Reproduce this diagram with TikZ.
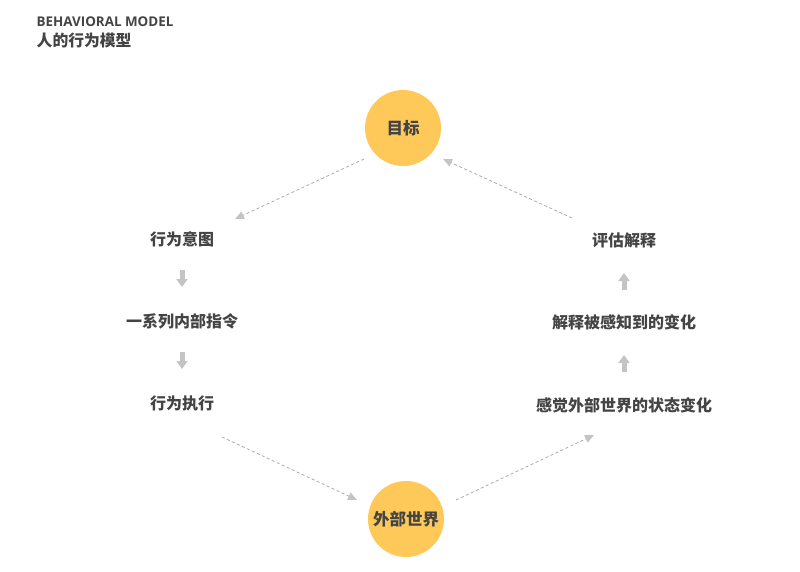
\documentclass[tikz,border=0pt]{standalone}
\usepackage{fontspec}
\setmainfont{Noto Sans CJK SC}
\newfontfamily\cjk{Noto Sans CJK SC}
\newfontfamily\latinf{Open Sans}
\usetikzlibrary{arrows.meta}
\definecolor{circfill}{HTML}{FFC95A}
\definecolor{txtc}{HTML}{444444}
\definecolor{dashc}{HTML}{AAAAAA}
\definecolor{bigc}{HTML}{C4C4C4}
\tikzset{
  lbl/.style={font=\cjk\bfseries\fontsize{16}{18}\selectfont, text=txtc, inner sep=0pt},
  circ/.style={circle, fill=circfill, minimum size=76pt, inner sep=0pt, font=\cjk\bfseries\fontsize{16.5}{18}\selectfont, text=txtc},
  dashconn/.style={draw=dashc, line width=0.8pt, dash pattern=on 3pt off 2.5pt, -{Triangle[length=9pt,width=8pt,fill=bigc,color=bigc]}},
  bigarrow/.style={draw=bigc, line width=5pt, -{Triangle[length=8pt,width=11pt]}}
}
\begin{document}
\begin{tikzpicture}[x=1pt,y=-1pt]
\useasboundingbox (0,0) rectangle (800,571);
\node[anchor=west, inner sep=0pt, text=txtc, font=\latinf\bfseries\fontsize{13.4}{15}\selectfont] (t1) at (36.5,21.5) {BEHAVIORAL MODEL};
\node[anchor=west, inner sep=0pt, text=txtc, font=\cjk\bfseries\fontsize{15.8}{17}\selectfont] (t2) at (36.5,40) {人的行为模型};

\node[circ] (goal) at (403,128) {目标};
\node[circ] (world) at (406,519) {外部世界};

\node[lbl] (a1) at (182,239) {行为意图};
\node[lbl] (a2) at (182,321) {一系列内部指令};
\node[lbl] (a3) at (182,403) {行为执行};

\node[lbl] (b1) at (624,240) {评估解释};
\node[lbl] (b2) at (624,322) {解释被感知到的变化};
\node[lbl] (b3) at (624,405) {感觉外部世界的状态变化};

\draw[bigarrow, shorten <=31pt, shorten >=34pt] (a1.center) -- (a2.center);
\draw[bigarrow, shorten <=31pt, shorten >=34pt] (a2.center) -- (a3.center);
\draw[bigarrow, shorten <=32pt, shorten >=33pt] (b2.center) -- (b1.center);
\draw[bigarrow, shorten <=33pt, shorten >=33pt] (b3.center) -- (b2.center);

\coordinate (d1s) at (364,159);
\coordinate (d1e) at (235,219);
\coordinate (d2s) at (572,218);
\coordinate (d2e) at (443,159);
\coordinate (d3s) at (222,437);
\coordinate (d3e) at (357,500);
\coordinate (d4s) at (456,500);
\coordinate (d4e) at (594,435);
\draw[dashconn] (d1s) -- (d1e);
\draw[dashconn] (d2s) -- (d2e);
\draw[dashconn] (d3s) -- (d3e);
\draw[dashconn] (d4s) -- (d4e);
\end{tikzpicture}
\end{document}
